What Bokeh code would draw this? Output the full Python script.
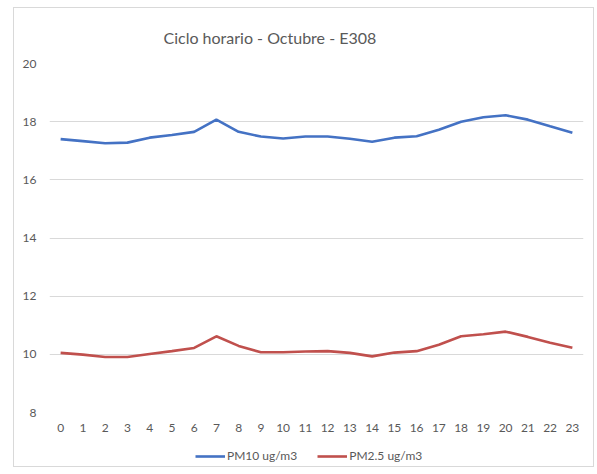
from bokeh.plotting import figure
from bokeh.layouts import column
from bokeh.models import ColumnDataSource, Legend, LegendItem, FixedTicker, Range1d
from bokeh.embed import file_html
from bokeh.resources import INLINE

hours = list(range(24))
pm10 = [17.40, 17.33, 17.26, 17.28, 17.45, 17.54, 17.65, 18.07, 17.65, 17.49, 17.42, 17.49,
        17.49, 17.41, 17.31, 17.45, 17.50, 17.72, 18.00, 18.15, 18.22, 18.07, 17.84, 17.62]
pm25 = [10.05, 9.99, 9.91, 9.91, 10.01, 10.11, 10.22, 10.62, 10.29, 10.07, 10.07, 10.10,
        10.11, 10.05, 9.93, 10.06, 10.11, 10.33, 10.62, 10.69, 10.78, 10.60, 10.40, 10.23]
y_ticks = [8, 10, 12, 14, 16, 18, 20]
series_names = ["PM10 ug/m3", "PM2.5 ug/m3"]
colors = ["#4472C4", "#C0504D"]

src = ColumnDataSource(dict(h=hours, pm10=pm10, pm25=pm25))

FONT = "Lato"
GRAY = "#595959"

p = figure(frame_width=534, frame_height=349, output_backend="svg", toolbar_location=None,
           x_range=Range1d(-0.5, 23.5), y_range=Range1d(8, 20),
           min_border_left=35, min_border_right=10, min_border_top=53, min_border_bottom=30,
           title="Ciclo horario - Octubre - E308")
p.title.align = "left"
p.title.offset = 114
p.title.standoff = 34
p.title.text_font = FONT
p.title.text_font_size = "16px"
p.title.text_font_style = "normal"
p.title.text_color = GRAY
p.outline_line_color = None

p.line("h", "pm10", source=src, line_color=colors[0], line_width=2.6)
p.line("h", "pm25", source=src, line_color=colors[1], line_width=2.6)

p.xaxis.ticker = FixedTicker(ticks=hours)
p.yaxis.ticker = FixedTicker(ticks=y_ticks)
for ax in (p.xaxis[0], p.yaxis[0]):
    ax.axis_line_color = None
    ax.major_tick_line_color = None
    ax.minor_tick_line_color = None
    ax.major_tick_out = 0
    ax.major_tick_in = 0
    ax.major_label_text_font = FONT
    ax.major_label_text_font_size = "12px"
    ax.major_label_text_color = GRAY
p.yaxis.major_label_standoff = 13
p.xaxis.major_label_standoff = 11
p.xgrid.grid_line_color = None
p.ygrid.grid_line_color = "#d9d9d9"
p.ygrid.grid_line_width = 1

# legend strip: same series drawn out of view, only the legend shows
p2 = figure(frame_width=534, frame_height=24, output_backend="svg", toolbar_location=None,
            x_range=p.x_range, y_range=Range1d(100, 101),
            x_axis_type=None, y_axis_type=None,
            min_border_left=35, min_border_right=10, min_border_top=0, min_border_bottom=0)
p2.outline_line_color = None
p2.grid.grid_line_color = None
l1 = p2.line("h", "pm10", source=src, line_color=colors[0], line_width=2.6)
l2 = p2.line("h", "pm25", source=src, line_color=colors[1], line_width=2.6)

legend = Legend(items=[LegendItem(label=series_names[0], renderers=[l1]),
                       LegendItem(label=series_names[1], renderers=[l2])],
                orientation="horizontal", location=(146, 3),
                label_text_font=FONT, label_text_font_size="12px", label_text_color=GRAY,
                border_line_color=None, background_fill_alpha=0,
                glyph_width=30, glyph_height=14, label_height=14,
                spacing=20, margin=0, padding=2, label_standoff=2)
p2.add_layout(legend, "center")

layout = column(p, p2, spacing=0,
                styles={"border": "1px solid #d9d9d9", "margin-left": "13px", "margin-top": "7px"})

open("out.html", "w").write(file_html(layout, INLINE))
